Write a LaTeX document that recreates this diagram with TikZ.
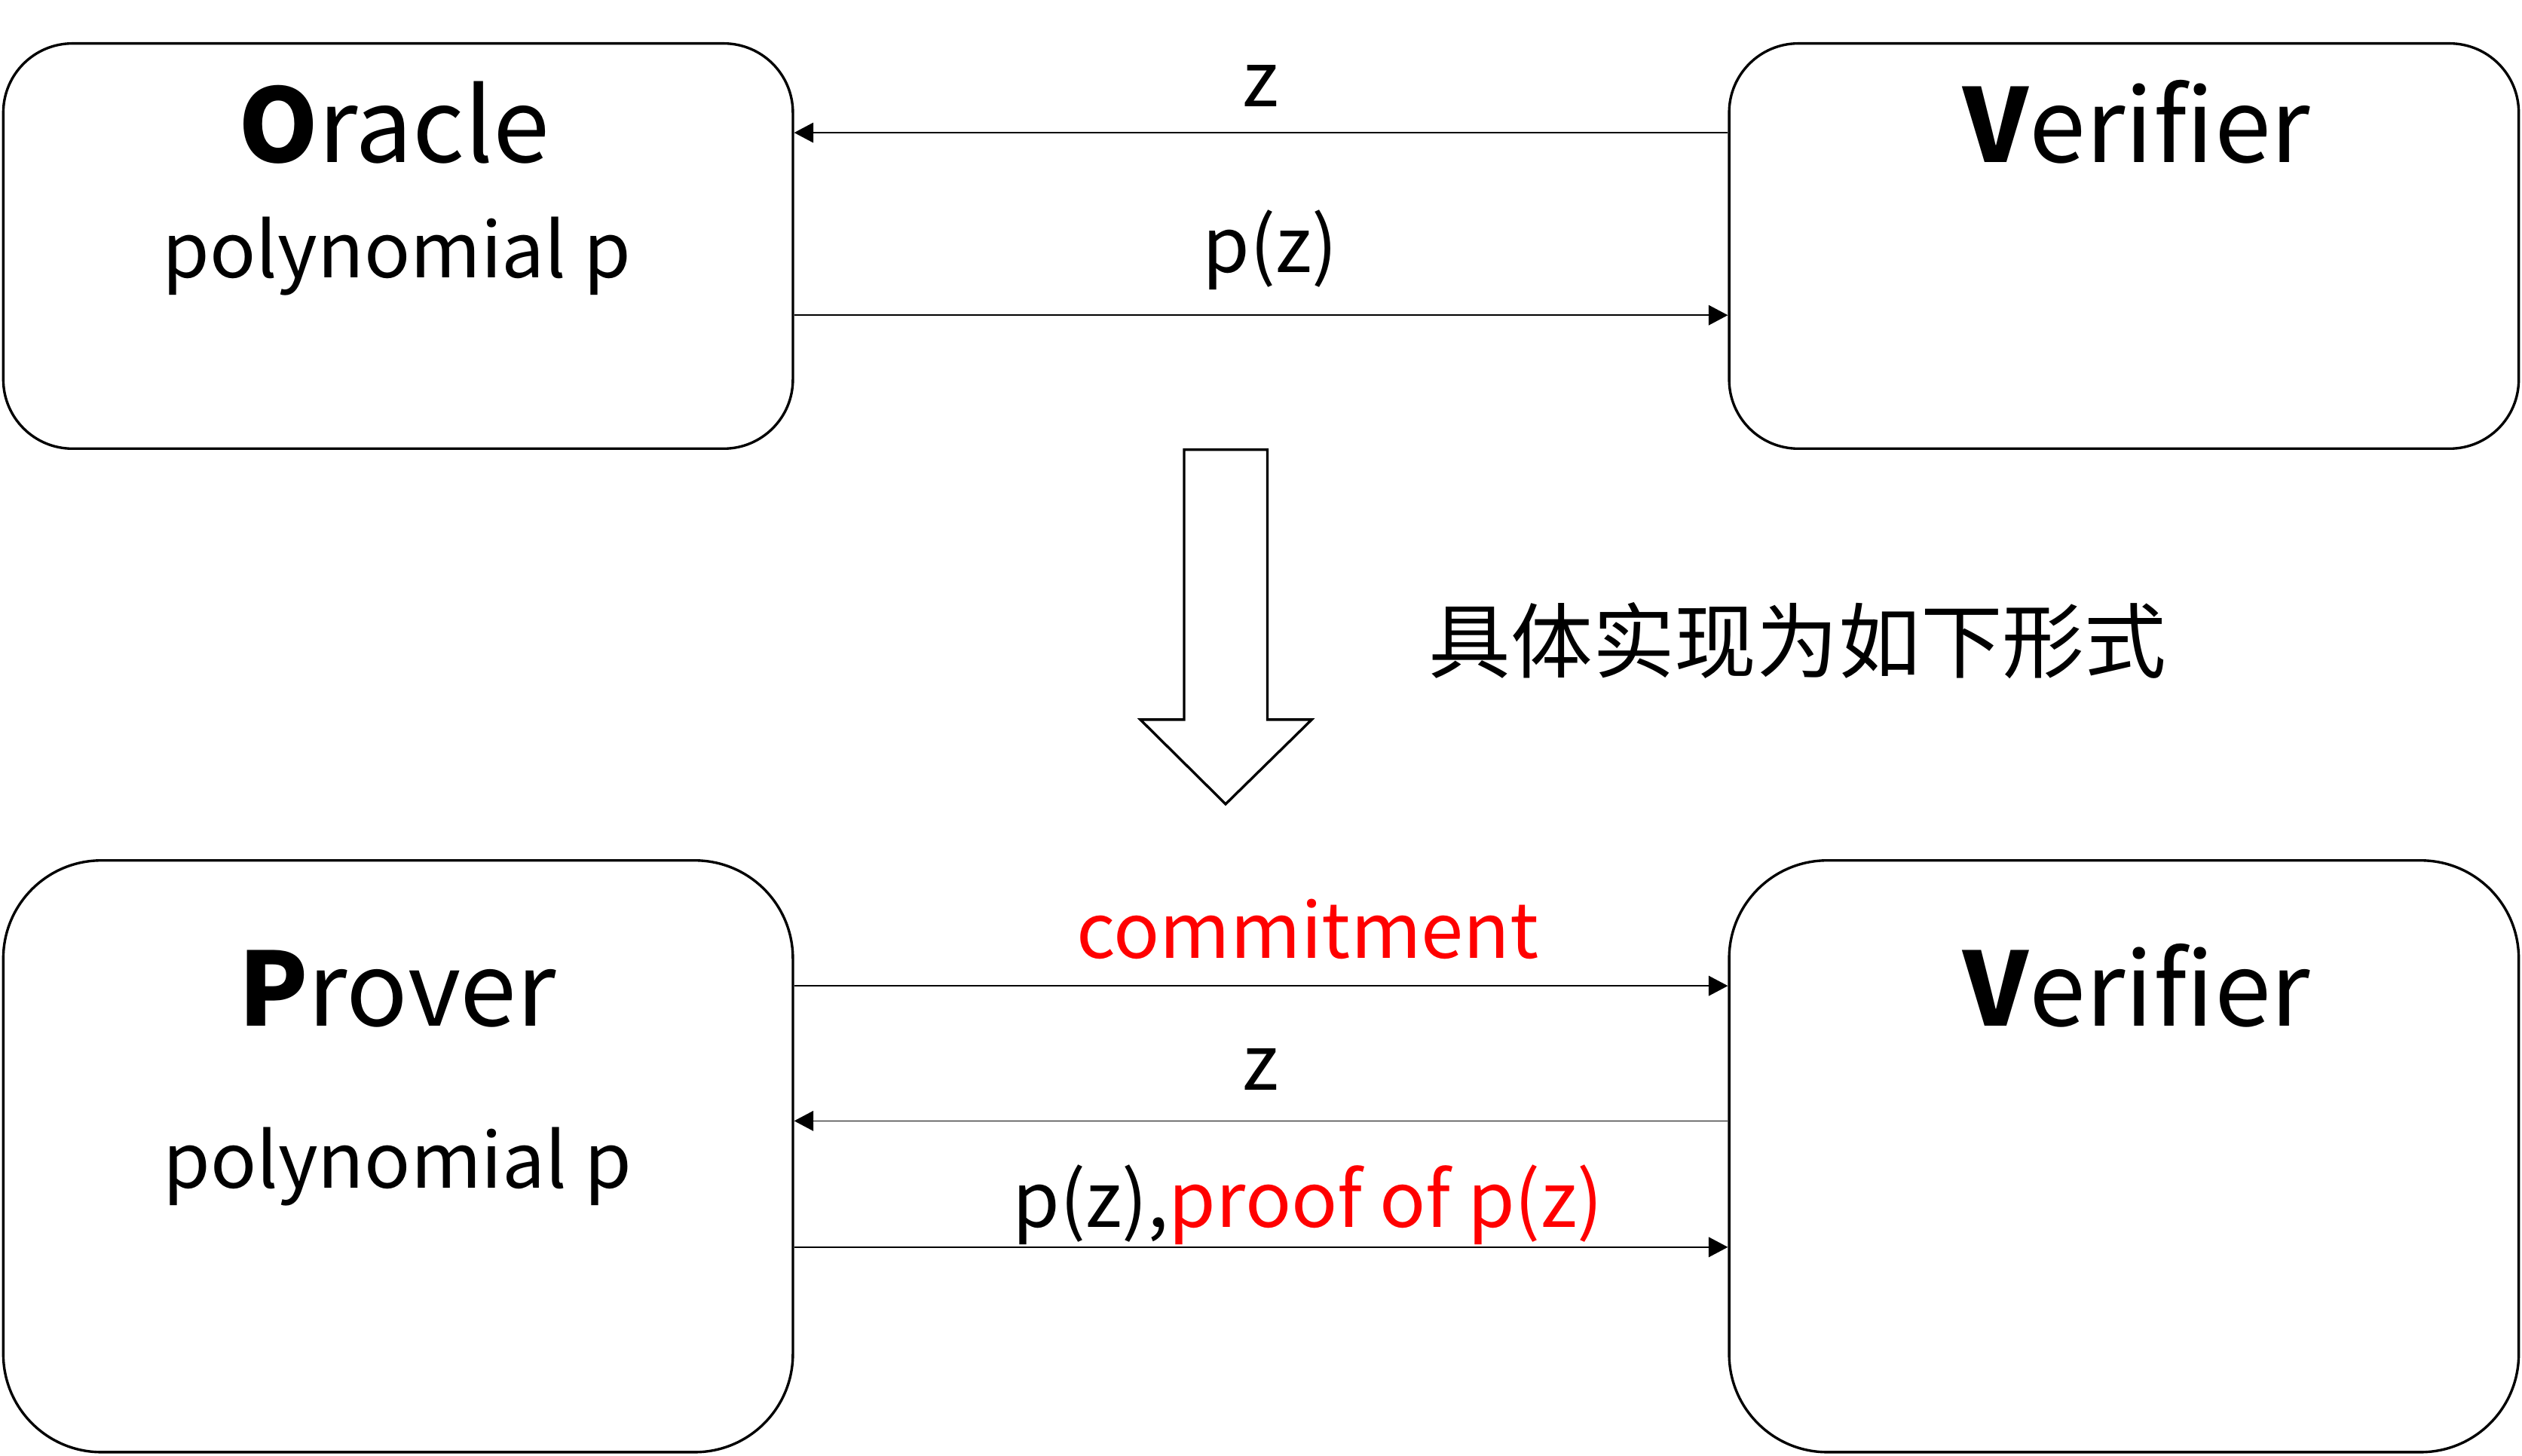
\documentclass[tikz,border=0pt]{standalone}
\usepackage{fontspec}
\setmainfont{Noto Sans CJK SC}[Ligatures=NoCommon]
\newfontfamily\cjk{Noto Sans CJK SC}
\usetikzlibrary{arrows.meta,positioning}
\tikzset{
    partyBox/.style={draw, line width=0.9pt, rounded corners=0.86cm, minimum width=9.82cm, minimum height=5.04cm, inner sep=0pt},
    msgArrow/.style={line width=0.45pt, -{Triangle[length=0.24cm,width=0.25cm]}},
    titleText/.style={anchor=base, inner sep=0pt, font=\fontsize{36}{43}\selectfont},
    labelText/.style={anchor=base, inner sep=0pt, font=\fontsize{27}{32}\selectfont}
}

\begin{document}
\begin{tikzpicture}[x=0.02cm, y=-0.02cm]
    \useasboundingbox (0,0) rectangle (1568,905);
    % top: oracle model
    \node[partyBox] (oracle) at (247.5,153) {};
    \node[partyBox] (verTop) at (1320.5,153) {};
    \node[titleText] (oracleName) at (245,100.8) {\textbf{O}racle};
    \node[labelText] (polyTop) at (246.7,172.5) {polynomial p};
    \node[titleText] (verTopName) at (1328.5,100.8) {\textbf{V}erifier};
    \draw[msgArrow] ([yshift=1.41cm]verTop.west) -- ([yshift=1.41cm]oracle.east)
        node[labelText, pos=0.5, yshift=0.32cm] (zTop) {z};
    \draw[msgArrow] ([yshift=-0.86cm]oracle.east) -- ([yshift=-0.86cm]verTop.west)
        node[labelText, pos=0.51, yshift=0.53cm] (pzTop) {p(z)};
    % big arrow down
    \draw[line width=0.9pt, line join=miter] (736.2,279.6) -- (788,279.6) -- (788,447.5) -- (815.5,447.5)
        -- (762,500) -- (709,447.5) -- (736.2,447.5) -- cycle;
    \node[anchor=base west, inner sep=0pt, font=\cjk\fontsize{29}{34}\selectfont] (howText) at (888,418) {具体实现为如下形式};
    % bottom: commitment scheme
    \node[partyBox, minimum height=7.36cm, rounded corners=1.22cm] (prover) at (247.5,719) {};
    \node[partyBox, minimum height=7.36cm, rounded corners=1.22cm] (verBot) at (1320.5,719) {};
    \node[titleText] (proverName) at (247,638) {\textbf{P}rover};
    \node[labelText] (polyBot) at (247,739) {polynomial p};
    \node[titleText] (verBotName) at (1328.5,638) {\textbf{V}erifier};
    \draw[msgArrow] ([yshift=2.12cm]prover.east) -- ([yshift=2.12cm]verBot.west)
        node[labelText, pos=0.55, yshift=0.34cm, text=red] (commitText) {commitment};
    \draw[msgArrow] ([yshift=0.44cm]verBot.west) -- ([yshift=0.44cm]prover.east)
        node[labelText, pos=0.5, yshift=0.38cm] (zBot) {z};
    \draw[msgArrow] ([yshift=-1.13cm]prover.east) -- ([yshift=-1.13cm]verBot.west)
        node[labelText, pos=0.55, yshift=0.25cm] (pzBot) {p(z),\textcolor{red}{proof of p(z)}};
\end{tikzpicture}
\end{document}
